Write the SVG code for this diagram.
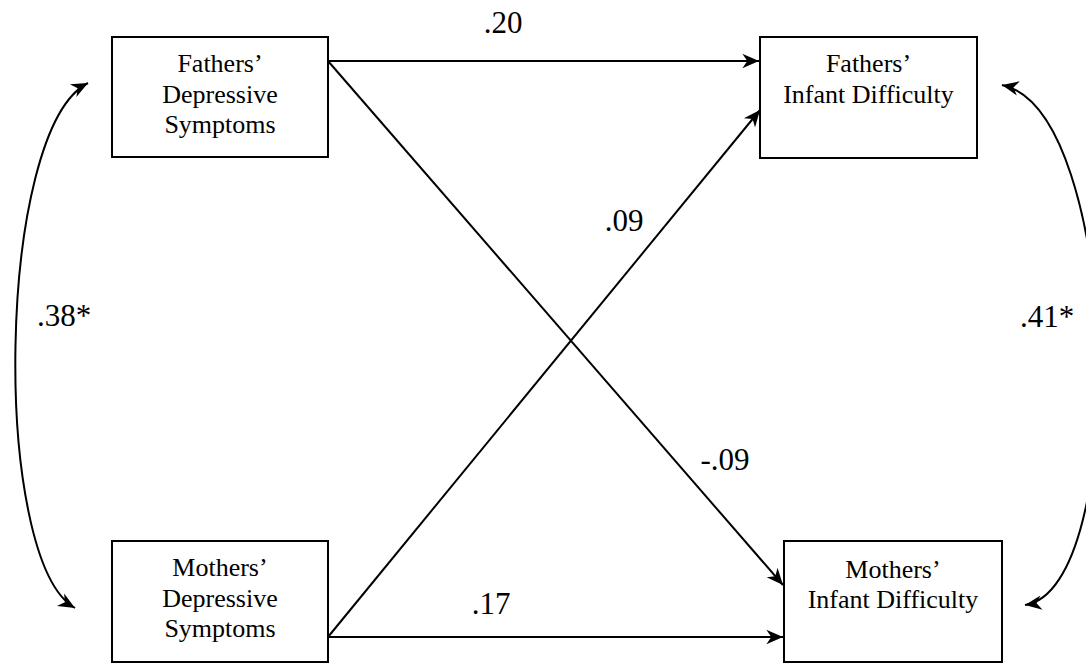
<svg xmlns="http://www.w3.org/2000/svg" width="1086" height="664" viewBox="0 0 1086 664">
  <style>
    .box { fill: #ffffff; stroke: #000000; stroke-width: 2; }
    .nt { font-family: "Liberation Serif", "Times New Roman", serif; font-size: 26px; fill: #000000; text-anchor: middle; }
    .lbl { font-family: "Liberation Serif", "Times New Roman", serif; font-size: 31px; fill: #000000; text-anchor: middle; }
    .conn { fill: none; stroke: #000000; stroke-width: 2; }
  </style>
  <defs>
    <marker id="ah" markerUnits="userSpaceOnUse" markerWidth="20" markerHeight="20" viewBox="-16 -8 18 16" refX="0" refY="0" orient="auto-start-reverse">
      <path d="M0,0 L-15,-6.5 L-10.5,0 L-15,6.5 Z" fill="#000000"/>
    </marker>
  </defs>

  <rect width="1086" height="664" fill="#ffffff"/>

  <g id="connectors">
    <line class="conn" x1="328" y1="61" x2="759" y2="61" marker-end="url(#ah)"/>
    <line class="conn" x1="328" y1="637" x2="783" y2="637" marker-end="url(#ah)"/>
    <line class="conn" x1="328" y1="61" x2="783" y2="585" marker-end="url(#ah)"/>
    <line class="conn" x1="328" y1="637" x2="760" y2="110" marker-end="url(#ah)"/>
    <path class="conn" d="M88,83 C-4,130 -9,560 75,608" marker-start="url(#ah)" marker-end="url(#ah)"/>
    <path class="conn" d="M1002,85 C1122,110 1130,590 1025,605" marker-start="url(#ah)" marker-end="url(#ah)"/>
  </g>

  <g id="labels">
    <text class="lbl" x="503" y="33">.20</text>
    <text class="lbl" x="624" y="231">.09</text>
    <text class="lbl" x="725" y="470">-.09</text>
    <text class="lbl" x="491" y="614">.17</text>
    <text class="lbl" x="64" y="326">.38*</text>
    <text class="lbl" x="1047" y="327">.41*</text>
  </g>

  <g id="fathers-depressive">
    <rect class="box" x="112" y="37" width="216" height="120"/>
    <text class="nt" x="220" y="72">Fathers’</text>
    <text class="nt" x="220" y="103">Depressive</text>
    <text class="nt" x="220" y="133">Symptoms</text>
  </g>

  <g id="fathers-infant">
    <rect class="box" x="760" y="37" width="217" height="121"/>
    <text class="nt" x="868.5" y="72">Fathers’</text>
    <text class="nt" x="868.5" y="103">Infant Difficulty</text>
  </g>

  <g id="mothers-depressive">
    <rect class="box" x="112" y="541" width="216" height="121"/>
    <text class="nt" x="220" y="576">Mothers’</text>
    <text class="nt" x="220" y="607">Depressive</text>
    <text class="nt" x="220" y="637">Symptoms</text>
  </g>

  <g id="mothers-infant">
    <rect class="box" x="784" y="541" width="218" height="121"/>
    <text class="nt" x="893" y="578">Mothers’</text>
    <text class="nt" x="893" y="608">Infant Difficulty</text>
  </g>
</svg>
